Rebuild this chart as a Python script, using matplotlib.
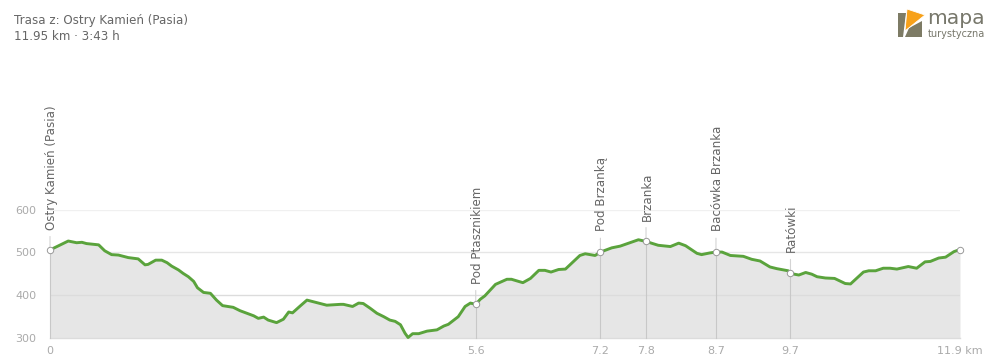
import matplotlib
matplotlib.use('Agg')
import matplotlib.pyplot as plt
from matplotlib.patches import Polygon

km = [0, 0.24, 0.35, 0.42, 0.48, 0.64, 0.72, 0.81, 0.90, 1.03, 1.16, 1.25, 1.29, 1.39, 1.47, 1.54,
      1.60, 1.69, 1.75, 1.82, 1.89, 1.94, 2.02, 2.11, 2.19, 2.27, 2.41, 2.50, 2.68, 2.74, 2.81, 2.87,
      2.98, 3.07, 3.14, 3.19, 3.29, 3.38, 3.51, 3.64, 3.82, 3.86, 3.98, 4.06, 4.12, 4.21, 4.30, 4.39,
      4.47, 4.54, 4.61, 4.67, 4.71, 4.77, 4.85, 4.96, 5.09, 5.18, 5.24, 5.37, 5.46, 5.53, 5.60, 5.66,
      5.72, 5.86, 6.01, 6.07, 6.22, 6.32, 6.43, 6.51, 6.59, 6.69, 6.78, 6.97, 7.04, 7.17, 7.24, 7.39,
      7.50, 7.74, 7.84, 8.00, 8.16, 8.27, 8.36, 8.51, 8.57, 8.68, 8.76, 8.84, 8.95, 9.12, 9.23, 9.34,
      9.47, 9.56, 9.71, 9.76, 9.85, 9.94, 10.02, 10.09, 10.20, 10.32, 10.46, 10.53, 10.70, 10.77,
      10.86, 10.96, 11.05, 11.14, 11.29, 11.40, 11.51, 11.58, 11.69, 11.78, 11.89, 11.97]
elev = [506, 527, 523, 524, 521, 518, 504, 495, 494, 488, 485, 471, 472, 482, 482, 476,
        468, 459, 451, 443, 432, 417, 406, 404, 388, 375, 371, 363, 351, 345, 348, 341,
        335, 343, 360, 358, 374, 388, 382, 376, 378, 378, 373, 381, 380, 369, 357, 349,
        341, 338, 330, 310, 300, 309, 309, 315, 318, 327, 331, 349, 373, 381, 378, 390,
        398, 425, 437, 437, 429, 439, 458, 458, 454, 460, 461, 493, 497, 493, 501, 511,
        515, 530, 526, 517, 514, 522, 516, 498, 495, 499, 501, 501, 493, 491, 484, 480,
        466, 462, 457, 450, 447, 453, 449, 443, 440, 439, 427, 426, 454, 457,
        457, 463, 463, 461, 467, 463, 478, 479, 487, 489, 502, 507]

stop_names = ['Ostry Kamień (Pasia)', 'Pod Ptasznikiem', 'Pod Brzanką', 'Brzanka', 'Bacówka Brzanka', 'Ratówki']
stop_km = [0, 5.60, 7.24, 7.84, 8.76, 9.74]
stop_elev = [505, 378, 501, 526, 501, 451]
end_km = 11.97
end_elev = 507

x_tick_pos = [0, 5.60, 7.24, 7.84, 8.76, 9.74, 11.97]
x_tick_labels = ['0', '5.6', '7.2', '7.8', '8.7', '9.7', '11.9 km']
y_ticks = [300, 400, 500, 600]

W, H = 1000, 362
fig = plt.figure(figsize=(W / 100, H / 100), dpi=100)
ax = fig.add_axes([50 / W, 1 - 337.5 / H, 910 / W, 127.5 / H])
ax.set_xlim(0, 11.97)
ax.set_ylim(300, 600)
ax.patch.set_alpha(0)
for s in ax.spines.values():
    s.set_visible(False)

# grid sits on top of the grey fill
ax.fill_between(km, elev, 300, color='#e6e6e6', lw=0, zorder=1)
ax.axhline(600, color='#f0f0f0', lw=1, zorder=2)
ax.axhline(500, color='#e6e6e6', lw=1, zorder=2)
ax.axhline(400, color='#dcdcdc', lw=1, zorder=2)
ax.axhline(300, color='#dcdcdc', lw=1, zorder=2, clip_on=False)

# waypoint stems and labels
for name, x, y in zip(stop_names, stop_km, stop_elev):
    ax.plot([x, x], [300, y], color='#c8c8c8', lw=0.8, zorder=2.5, clip_on=False)
    ax.annotate('', xy=(x, y), xycoords='data', xytext=(0, 10), textcoords='offset points',
                arrowprops=dict(arrowstyle='-', color='#d4d4d4', lw=0.8, shrinkA=0, shrinkB=0), zorder=2.5)
    ax.annotate(name, xy=(x, y), xytext=(1, 15), textcoords='offset points', rotation=90,
                ha='center', va='bottom', fontsize=8.6, color='#666666', annotation_clip=False)

ax.plot(km, elev, color='#5aa33c', lw=2.1, zorder=3, clip_on=False, solid_joinstyle='round')
ax.plot(stop_km + [end_km], stop_elev + [end_elev], ls='none', marker='o', ms=4.6, mfc='white',
        mec='#999999', mew=0.7, zorder=4, clip_on=False)

ax.set_yticks(y_ticks)
ax.set_xticks(x_tick_pos)
ax.set_xticklabels(x_tick_labels)
ax.tick_params(length=0, labelsize=8, labelcolor='#aaaaaa')
ax.tick_params(axis='x', pad=6)
ax.tick_params(axis='y', pad=10)

# header
fig.text(14 / W, 1 - 24 / H, 'Trasa z: Ostry Kamień (Pasia)', fontsize=8.6, color='#666666')
fig.text(14 / W, 1 - 40 / H, '11.95 km · 3:43 h', fontsize=8.6, color='#666666')

# logo, drawn in pixel space
logo = fig.add_axes([0, 0, 1, 1], zorder=5)
logo.set_xlim(0, W)
logo.set_ylim(H, 0)
logo.axis('off')
logo.add_patch(Polygon([(898, 13), (906, 13), (903, 37), (898, 37)], fc='#7d7b65', lw=0))
logo.add_patch(Polygon([(905, 37), (922, 37), (922, 21), (909, 28)], fc='#7d7b65', lw=0))
logo.add_patch(Polygon([(907, 9), (925, 15), (905, 31)], fc='#f7a11a', ec='white', lw=0.6))
logo.text(927, 24, 'mapa', fontsize=14.6, color='#77776b', va='baseline')
logo.text(928, 37, 'turystyczna', fontsize=7.0, color='#77776b', va='baseline')

fig.savefig('out.png', dpi=100)
